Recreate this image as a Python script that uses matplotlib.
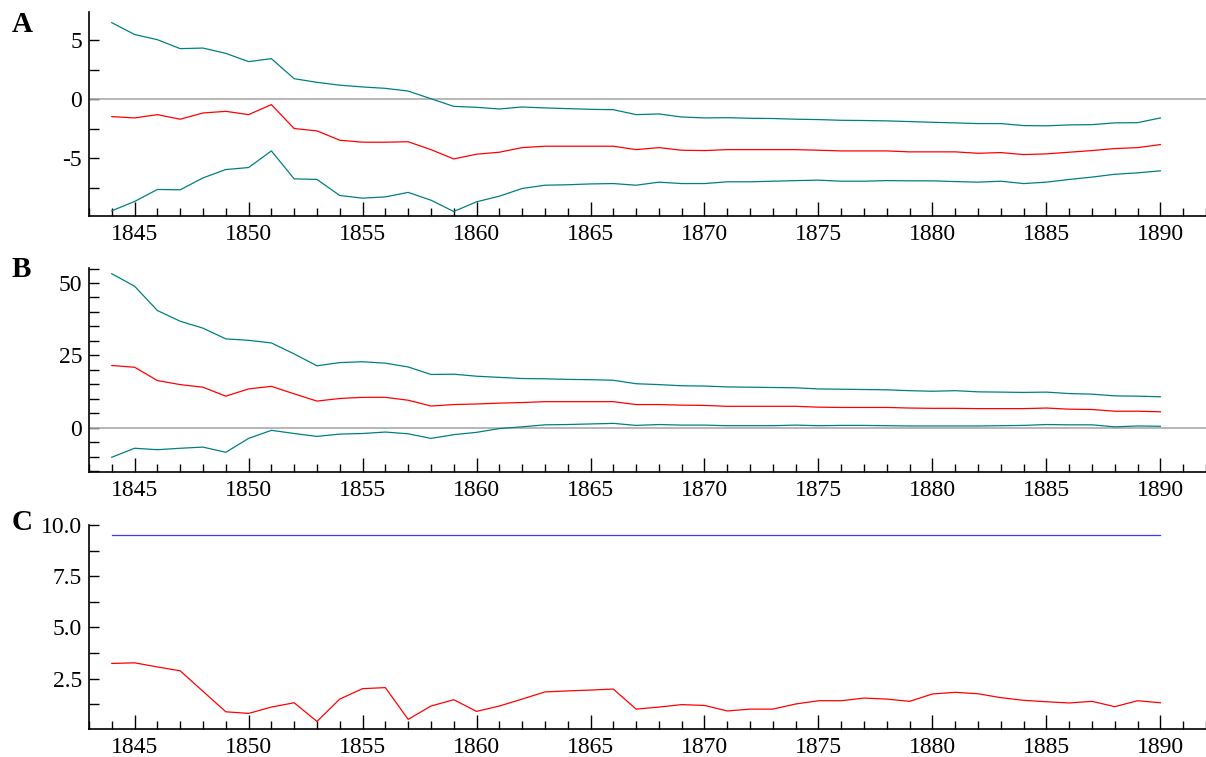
import numpy as np
import matplotlib
matplotlib.use("Agg")
import matplotlib.pyplot as plt
from matplotlib.ticker import MultipleLocator, FormatStrFormatter

plt.rcParams['font.family'] = ['Liberation Serif', 'DejaVu Serif']
plt.rcParams['axes.unicode_minus'] = False

years = np.arange(1844, 1891)

# panel A
a_upper = [6.5, 5.5, 5.06, 4.3, 4.35, 3.9, 3.2, 3.45, 1.75, 1.44, 1.2, 1.05, 0.93, 0.7,
           0.05, -0.6, -0.68, -0.82, -0.65, -0.73, -0.79, -0.85, -0.88, -1.3, -1.24, -1.5,
           -1.58, -1.56, -1.61, -1.63, -1.69, -1.72, -1.78, -1.8, -1.83, -1.89, -1.95, -2.0,
           -2.06, -2.06, -2.23, -2.25, -2.17, -2.15, -2.0, -1.98, -1.58]
a_mid = [-1.47, -1.58, -1.3, -1.69, -1.16, -1.02, -1.3, -0.45, -2.48, -2.68, -3.47, -3.64,
         -3.64, -3.6, -4.27, -5.06, -4.66, -4.49, -4.1, -3.98, -3.98, -3.98, -3.98, -4.27,
         -4.1, -4.32, -4.35, -4.27, -4.27, -4.27, -4.27, -4.32, -4.38, -4.38, -4.38, -4.46,
         -4.46, -4.46, -4.58, -4.52, -4.69, -4.63, -4.49, -4.35, -4.18, -4.1, -3.84]
a_lower = [-9.46, -8.67, -7.65, -7.68, -6.67, -5.96, -5.79, -4.38, -6.75, -6.8, -8.16, -8.39,
           -8.28, -7.9, -8.56, -9.52, -8.7, -8.22, -7.57, -7.29, -7.25, -7.18, -7.15, -7.29,
           -7.03, -7.15, -7.15, -7.0, -7.0, -6.95, -6.9, -6.86, -6.95, -6.95, -6.9, -6.92,
           -6.92, -6.98, -7.03, -6.95, -7.15, -7.03, -6.8, -6.6, -6.36, -6.24, -6.07]

# panel B
b_upper = [53.2, 48.9, 40.5, 36.8, 34.4, 30.7, 30.2, 29.3, 25.5, 21.4, 22.5, 22.8, 22.3, 21.0,
           18.4, 18.5, 17.8, 17.4, 17.0, 16.9, 16.7, 16.6, 16.4, 15.2, 14.9, 14.5, 14.4, 14.1,
           14.0, 13.9, 13.8, 13.4, 13.3, 13.2, 13.1, 12.8, 12.6, 12.8, 12.4, 12.3, 12.2, 12.3,
           11.8, 11.6, 11.0, 10.9, 10.7]
b_mid = [21.5, 20.9, 16.3, 14.9, 14.0, 10.9, 13.4, 14.3, 11.7, 9.2, 10.1, 10.5, 10.5, 9.5,
         7.5, 8.0, 8.2, 8.5, 8.7, 9.0, 9.0, 9.0, 9.0, 8.0, 8.0, 7.8, 7.7, 7.4, 7.4, 7.4, 7.4,
         7.1, 7.0, 7.0, 7.0, 6.8, 6.7, 6.7, 6.6, 6.6, 6.6, 6.8, 6.4, 6.3, 5.7, 5.7, 5.5]
b_lower = [-10.2, -7.1, -7.6, -7.1, -6.7, -8.5, -3.7, -0.9, -2.0, -3.0, -2.2, -2.0, -1.5, -2.1,
           -3.7, -2.4, -1.6, -0.3, 0.3, 1.0, 1.1, 1.3, 1.5, 0.8, 1.1, 0.9, 0.9, 0.7, 0.7, 0.7,
           0.9, 0.7, 0.8, 0.8, 0.7, 0.6, 0.6, 0.6, 0.6, 0.7, 0.8, 1.1, 1.0, 1.0, 0.3, 0.6, 0.5]

# panel C
c_flat = [9.5] * len(years)
c_red = [3.24, 3.27, 3.07, 2.88, 1.88, 0.88, 0.8, 1.11, 1.32, 0.41, 1.5, 2.01, 2.06, 0.51,
         1.16, 1.47, 0.9, 1.16, 1.5, 1.85, 1.9, 1.94, 1.99, 1.01, 1.11, 1.23, 1.19, 0.92,
         1.01, 1.01, 1.26, 1.42, 1.42, 1.55, 1.5, 1.39, 1.75, 1.83, 1.76, 1.57, 1.44, 1.37,
         1.31, 1.39, 1.13, 1.42, 1.32]

teal = '#008080'
red = '#ff0000'
blue = '#3a3aff'

fig = plt.figure(figsize=(12.06, 7.57), dpi=100)
left, width = 0.0738, 0.9262
axA = fig.add_axes([left, 0.7147, width, 0.2693])
axB = fig.add_axes([left, 0.3765, width, 0.2695])
axC = fig.add_axes([left, 0.0370, width, 0.2695])


def style(ax):
    for s in ['top', 'right']:
        ax.spines[s].set_visible(False)
    for s in ['left', 'bottom']:
        ax.spines[s].set_linewidth(1.2)
    ax.set_xlim(1843, 1892)
    ax.xaxis.set_major_locator(MultipleLocator(5))
    ax.xaxis.set_minor_locator(MultipleLocator(1))
    ax.tick_params(axis='x', which='major', direction='in', length=10, width=1, pad=6, labelsize=17)
    ax.tick_params(axis='x', which='minor', direction='in', length=6, width=1)
    ax.tick_params(axis='y', which='both', direction='in', length=7, width=1, pad=5, labelsize=17)


# A
axA.axhline(0, color='#aaaaaa', lw=1.2)
axA.plot(years, a_upper, color=teal, lw=0.9)
axA.plot(years, a_mid, color=red, lw=0.9)
axA.plot(years, a_lower, color=teal, lw=0.9)
style(axA)
axA.set_ylim(-9.9, 7.4)
axA.yaxis.set_major_locator(MultipleLocator(5))
axA.yaxis.set_minor_locator(MultipleLocator(2.5))

# B
axB.axhline(0, color='#aaaaaa', lw=1.2)
axB.plot(years, b_upper, color=teal, lw=0.9)
axB.plot(years, b_mid, color=red, lw=0.9)
axB.plot(years, b_lower, color=teal, lw=0.9)
style(axB)
axB.set_ylim(-15.3, 55.2)
axB.yaxis.set_major_locator(MultipleLocator(25))
axB.yaxis.set_minor_locator(MultipleLocator(5))

# C
axC.plot(years, c_flat, color=blue, lw=0.9)
axC.plot(years, c_red, color=red, lw=0.9)
style(axC)
axC.set_ylim(0.04, 10.0)
axC.yaxis.set_major_locator(MultipleLocator(2.5))
axC.yaxis.set_minor_locator(MultipleLocator(1.25))
axC.yaxis.set_major_formatter(FormatStrFormatter('%.1f'))

for lab, y in [('A', 0.985), ('B', 0.662), ('C', 0.327)]:
    fig.text(0.01, y, lab, fontsize=21, fontweight='bold', va='top')

fig.savefig('out.png', dpi=100)
